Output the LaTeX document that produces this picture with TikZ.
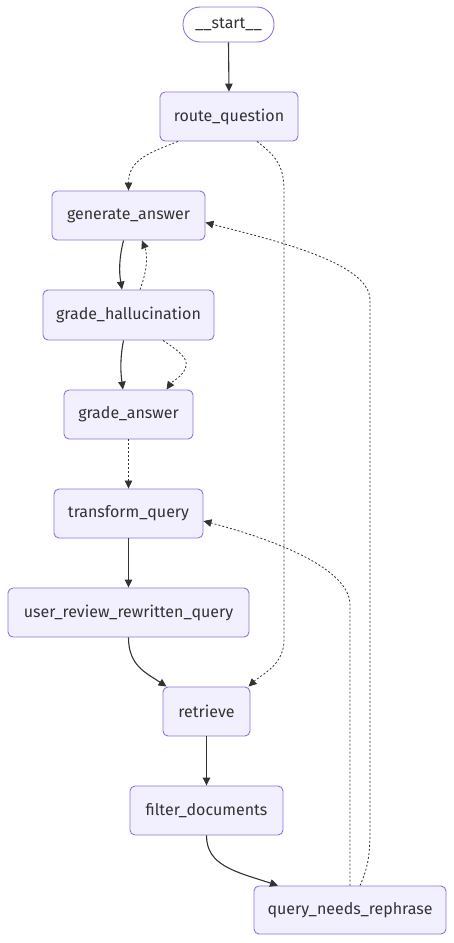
\documentclass[tikz,border=0pt]{standalone}
\usepackage{fontspec}
\setmainfont{Fira Sans}
\usetikzlibrary{arrows.meta}
\definecolor{nodefill}{HTML}{F2F0FF}
\definecolor{nodeline}{HTML}{9370DB}
\definecolor{ink}{HTML}{333333}
\begin{document}
\begin{tikzpicture}[x=1pt,y=-1pt,
  box/.style={draw=nodeline,fill=nodefill,line width=0.9pt,rounded corners=5pt,inner sep=0pt,
    text=ink,font=\fontsize{16}{19}\selectfont},
  pill/.style={draw=nodeline,fill=white,line width=0.9pt,rounded corners=17pt,inner sep=0pt,
    text=ink,font=\fontsize{16}{19}\selectfont},
  edge/.style={draw=ink,line width=1.1pt,-{Triangle[length=8pt,width=7.5pt]}},
  cond/.style={draw=ink,line width=0.8pt,dash pattern=on 2pt off 2pt,-{Triangle[length=8pt,width=7.5pt,fill=ink]}}
]
\path[use as bounding box,fill=white] (0,0) rectangle (454,943);

\node[pill,minimum width=91pt,minimum height=35pt] (start) at (228.5,24.5) {\_\_start\_\_};
\node[box,minimum width=138pt,minimum height=49pt] (rq) at (229,116.5) {route\_question};
\node[box,minimum width=153pt,minimum height=49pt] (ga) at (128.5,215.5) {generate\_answer};
\node[box,minimum width=171pt,minimum height=50pt] (gh) at (128.5,315) {grade\_hallucination};
\node[box,minimum width=129pt,minimum height=49pt] (gans) at (128.5,414.5) {grade\_answer};
\node[box,minimum width=149pt,minimum height=49pt] (tq) at (128.5,513.5) {transform\_query};
\node[box,minimum width=241pt,minimum height=49pt] (ur) at (128.5,612.5) {user\_review\_rewritten\_query};
\node[box,minimum width=87pt,minimum height=49pt] (ret) at (206.5,711.5) {retrieve};
\node[box,minimum width=153pt,minimum height=49pt] (fd) at (206.5,810.5) {filter\_documents};
\node[box,minimum width=192pt,minimum height=48pt] (qnr) at (350,910) {query\_needs\_rephrase};

% solid edges
\draw[edge] (start.south) -- (rq.north);
\draw[edge] ([xshift=-5pt]ga.south) .. controls +(-4.5,18) and +(-3,-18) .. ([xshift=-6.5pt]gh.north);
\draw[edge] ([xshift=-5pt]gh.south) .. controls +(-3.5,18) and +(-2.5,-18) .. ([xshift=-5.5pt]gans.north);
\draw[edge] (tq.south) -- (ur.north);
\draw[edge] (ur.south) .. controls +(0,28) and +(-21,-14) .. ([xshift=-40pt]ret.north);
\draw[edge] (ret.south) -- (fd.north);
\draw[edge] (fd.south) .. controls +(0,30) and +(-43,-14) .. ([xshift=-72pt]qnr.north);

% conditional edges
\draw[cond] ([xshift=-51pt]rq.south) .. controls +(-28,11) and +(0,-31) .. (ga.north);
\draw[cond] ([xshift=28pt]rq.south) .. controls +(18,14) and +(0,-25) .. (284,190) -- (284,640)
  .. controls +(0,25) and +(13,-12) .. ([xshift=42pt]ret.north);
\draw[cond] ([xshift=11.5pt]gh.north) .. controls +(7,-18) and +(6,15) .. ([xshift=13.5pt]ga.south);
\draw[cond] ([xshift=34.5pt]gh.south) .. controls +(15,10) and +(2,-8) .. (186,366)
  .. controls +(-2,10) and +(5.5,-8) .. ([xshift=38pt]gans.north);
\draw[cond] (gans.south) -- (tq.north);
\draw[cond] (qnr.north) -- (350,605) .. controls +(0,-40) and +(57,15) .. ([yshift=-7.5pt]tq.east);
\draw[cond] ([xshift=10pt]qnr.north) .. controls +(8,-18) and +(0,25) .. (370,830) -- (370,300)
  .. controls +(0,-38) and +(65,17) .. ([yshift=-7pt]ga.east);
\end{tikzpicture}
\end{document}
